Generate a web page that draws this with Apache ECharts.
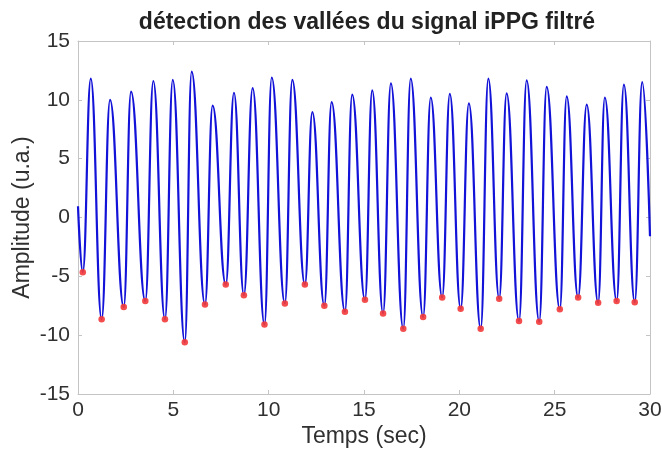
<!DOCTYPE html>
<html>
<head>
<meta charset="utf-8">
<script src="https://cdn.jsdelivr.net/npm/echarts@6/dist/echarts.min.js"></script>
<style>
  html, body { margin: 0; padding: 0; background: #fff; }
  #chart { width: 662px; height: 459px; }
</style>
</head>
<body>
<div id="chart"></div>
<script>
// Filtered iPPG signal: turning points (time in s, amplitude in a.u.)
const startPoint = [0, 0.96];
const endPoint = [30, -1.6];

const peakTimes  = [0.67, 1.68, 2.78, 3.95, 4.97, 5.96, 7.06, 8.18, 9.16, 10.16,
                    11.24, 12.29, 13.3, 14.38, 15.43, 16.41, 17.45, 18.5, 19.5, 20.5,
                    21.52, 22.48, 23.53, 24.58, 25.63, 26.68, 27.63, 28.63, 29.59];
const peakValues = [11.8, 10.0, 10.7, 11.6, 11.7, 12.4, 9.5, 10.6, 11.0, 11.9,
                    11.7, 8.95, 9.8, 10.45, 10.8, 11.4, 11.8, 10.2, 10.5, 9.7,
                    11.8, 10.55, 11.65, 11.1, 10.3, 9.6, 10.2, 11.3, 11.5];

// Detected valleys (red markers)
const valleyTimes  = [0.25, 1.24, 2.4, 3.53, 4.56, 5.6, 6.66, 7.75, 8.7, 9.78,
                      10.85, 11.9, 12.92, 14.0, 15.05, 16.0, 17.06, 18.1, 19.1, 20.07,
                      21.12, 22.09, 23.13, 24.19, 25.27, 26.23, 27.28, 28.25, 29.2];
const valleyValues = [-4.65, -8.65, -7.6, -7.1, -8.65, -10.6, -7.4, -5.7, -6.6, -9.1,
                      -7.3, -5.7, -7.5, -8.0, -7.0, -8.15, -9.45, -8.45, -6.8, -7.75,
                      -9.45, -6.9, -8.8, -8.85, -7.8, -6.8, -7.25, -7.1, -7.2];

const xTicks = [0, 5, 10, 15, 20, 25, 30];
const yTicks = [-15, -10, -5, 0, 5, 10, 15];

// Signal trace: valleys and peaks merged in time order
const signal = [startPoint];
valleyTimes.forEach((t, i) => {
  signal.push([t, valleyValues[i]]);
  signal.push([peakTimes[i], peakValues[i]]);
});
signal.push(endPoint);
signal.sort((a, b) => a[0] - b[0]);

const valleys = valleyTimes.map((t, i) => [t, valleyValues[i]]);

const font = '"Liberation Sans", Arial, Helvetica, sans-serif';
const frameColor = '#c4c4c4';
const labelColor = '#303030';

const chart = echarts.init(document.getElementById('chart'), null, { renderer: 'canvas' });

const baseAxis = {
  axisLine: { show: true, onZero: false, lineStyle: { color: frameColor, width: 1 } },
  axisTick: { show: true, inside: true, length: 4, lineStyle: { color: frameColor } },
  splitLine: { show: false }
};

chart.setOption({
  animation: false,
  backgroundColor: '#ffffff',
  title: {
    text: 'détection des vallées du signal iPPG filtré',
    left: 362,
    textAlign: 'center',
    top: 6,
    textStyle: { fontFamily: font, fontSize: 23, fontWeight: 'bold', color: '#222' }
  },
  grid: { left: 78, right: 12, top: 41, bottom: 65, containLabel: false, outerBoundsMode: 'none' },
  xAxis: [
    Object.assign({}, baseAxis, {
      type: 'value', min: xTicks[0], max: xTicks[xTicks.length - 1], interval: 5,
      position: 'bottom',
      name: 'Temps (sec)', nameLocation: 'middle', nameGap: 31, nameMoveOverlap: false,
      nameTextStyle: { fontFamily: font, fontSize: 23, color: labelColor },
      axisLabel: { fontFamily: font, fontSize: 21, color: labelColor, margin: 6 }
    }),
    Object.assign({}, baseAxis, {
      type: 'value', min: xTicks[0], max: xTicks[xTicks.length - 1], interval: 5,
      position: 'top', axisLabel: { show: false }
    })
  ],
  yAxis: [
    Object.assign({}, baseAxis, {
      type: 'value', min: yTicks[0], max: yTicks[yTicks.length - 1], interval: 5,
      position: 'left',
      name: 'Amplitude (u.a.)', nameLocation: 'middle', nameGap: 44, nameRotate: 90,
      nameMoveOverlap: false,
      nameTextStyle: { fontFamily: font, fontSize: 23, color: labelColor },
      axisLabel: { fontFamily: font, fontSize: 21, color: labelColor, margin: 8 }
    }),
    Object.assign({}, baseAxis, {
      type: 'value', min: yTicks[0], max: yTicks[yTicks.length - 1], interval: 5,
      position: 'right', axisLabel: { show: false }
    })
  ],
  series: [
    {
      type: 'line',
      data: signal,
      xAxisIndex: 0, yAxisIndex: 0,
      smooth: 0.45,
      smoothMonotone: 'x',
      showSymbol: false,
      lineStyle: { color: '#1212d8', width: 2.2 },
      z: 2
    },
    {
      type: 'scatter',
      data: valleys,
      xAxisIndex: 0, yAxisIndex: 0,
      symbol: 'circle',
      symbolSize: 6.5,
      itemStyle: { color: '#f23a3a', opacity: 0.9 },
      z: 3
    }
  ]
});
</script>
</body>
</html>
